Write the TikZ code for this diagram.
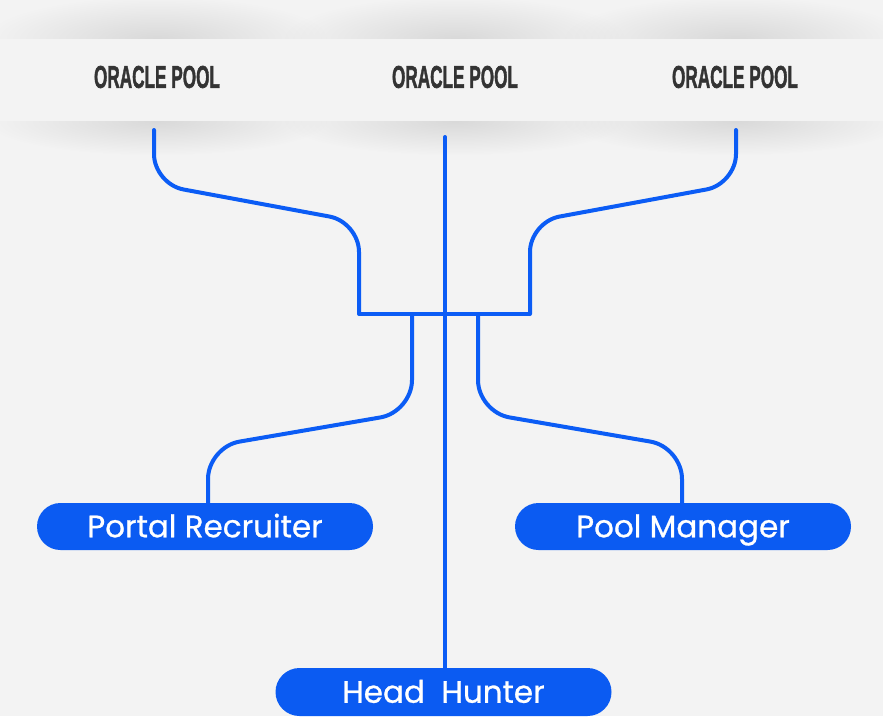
\documentclass[tikz,border=0pt]{standalone}
\usepackage{fontspec}
\setmainfont{Poppins}[FakeBold=0.8]
\newfontfamily\poolfont{Liberation Sans}[FakeBold=2]
\usetikzlibrary{shapes.misc,fadings}
\definecolor{bg}{HTML}{F3F3F3}
\definecolor{shadowc}{HTML}{D9D9D9}
\definecolor{linkblue}{HTML}{0B5CF5}
\definecolor{pillblue}{HTML}{0B5BF2}
\definecolor{poolink}{HTML}{333333}
% soft radial fading for the strip shadows
\tikzfading[name=softglow, inner color=transparent!0, outer color=transparent!100]
\tikzset{
  link/.style={draw=linkblue, line width=4pt, line cap=round, line join=round},
  branch/.style={link, rounded corners=30pt},
  pooltitle/.style={inner sep=0pt, text=poolink},
  glow/.style={fill=shadowc, path fading=softglow},
  pill/.style={rounded rectangle, fill=pillblue, draw=none, text=white,
    minimum width=336pt, minimum height=47pt, inner sep=0pt,
    text height=21.5pt, text depth=0pt,
    font=\fontsize{31}{33}\selectfont},
}
\newcommand{\pooltext}{\resizebox{126pt}{22pt}{\poolfont\bfseries ORACLE POOL}}
\begin{document}
\begin{tikzpicture}[x=1pt, y=-1pt]
  % canvas
  \fill[bg] (0,0) rectangle (883,716);
  \useasboundingbox (0,0) rectangle (883,716);

  % soft shadows above and below the title strip
  \begin{scope}
    \clip (0,0) rectangle (883,39);
    \foreach \cx in {157,455,735}
      \fill[glow] (\cx,39) ellipse [x radius=170, y radius=42];
  \end{scope}
  \begin{scope}
    \clip (0,121) rectangle (883,180);
    \foreach \cx in {157,455,735}
      \fill[glow] (\cx,121) ellipse [x radius=170, y radius=34];
  \end{scope}
  \fill[bg] (0,39) rectangle (883,121);

  % titles
  \node[pooltitle] (pool1) at (157,77) {\pooltext};
  \node[pooltitle] (pool2) at (455,77) {\pooltext};
  \node[pooltitle] (pool3) at (735,77) {\pooltext};

  % roles
  \node[pill] (recruiter) at (205,526.5) {Portal Recruiter};
  \node[pill] (manager) at (683,526.5) {Pool Manager};
  \node[pill, minimum height=48pt] (hunter) at (443.5,692) {Head\ \ Hunter};

  % connector end points
  \coordinate (s1) at (154,130);
  \coordinate (s2) at (445,137);
  \coordinate (s3) at (736,130);
  \coordinate (barL) at (359,314);
  \coordinate (barR) at (530,314);
  \coordinate (dropL) at (412,314);
  \coordinate (dropR) at (478,314);

  % upper branches into the bar
  \draw[branch] (s1) -- (154,184) -- (359,222) -- (barL);
  \draw[branch] (s3) -- (736,184) -- (530,222) -- (barR);
  \draw[link, line cap=butt] (barL) -- (barR);

  % lower branches to the role boxes
  \draw[branch, rounded corners=32pt] (dropL) -- (412,412) -- (208,447) -- (recruiter.north -| 208,0);
  \draw[branch, rounded corners=32pt] (dropR) -- (478,412) -- (682,447) -- (manager.north -| 682,0);

  % central trunk
  \draw[link] (s2) -- (hunter.north -| s2);
\end{tikzpicture}
\end{document}
